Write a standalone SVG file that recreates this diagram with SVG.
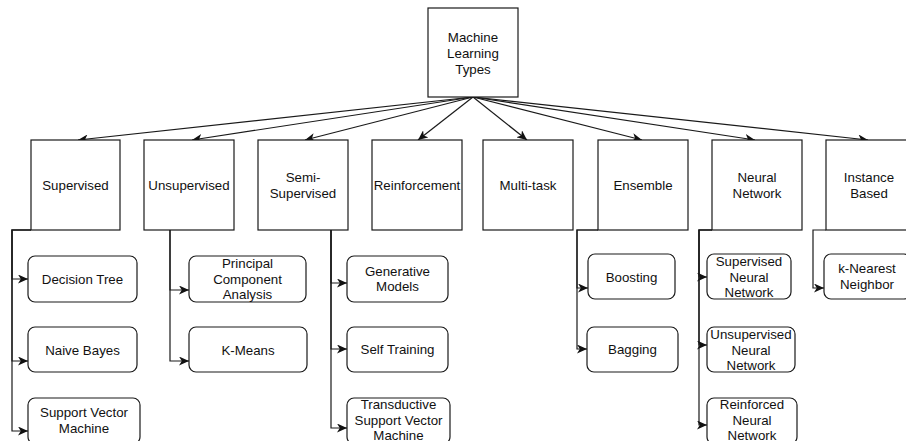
<svg xmlns="http://www.w3.org/2000/svg" width="906" height="441" viewBox="0 0 906 441">
  <style>
    .box { fill: #ffffff; stroke: #1a1a1a; stroke-width: 1.2; }
    .leaf { fill: #ffffff; stroke: #1a1a1a; stroke-width: 1.2; }
    .edge { fill: none; stroke: #1a1a1a; stroke-width: 1.2; }
    text { font-family: "Liberation Sans", Arial, Helvetica, sans-serif; font-size: 13.3px; fill: #111111; text-anchor: middle; dominant-baseline: central; }
  </style>
  <defs>
    <marker id="arrow" markerUnits="userSpaceOnUse" markerWidth="11" markerHeight="9" refX="10" refY="4.5" orient="auto">
      <path d="M0,0 L10,4.5 L0,9 L2.8,4.5 Z" fill="#111111"/>
    </marker>
  </defs>
  <rect width="906" height="441" fill="#ffffff"/>

  <!-- connectors -->
  <g id="connectors" class="edges">
    <!-- root to categories -->
    <path class="edge" d="M473,97 L78,140" marker-end="url(#arrow)"/>
    <path class="edge" d="M473,97 L192,140" marker-end="url(#arrow)"/>
    <path class="edge" d="M473,97 L305,140" marker-end="url(#arrow)"/>
    <path class="edge" d="M473,97 L418,140" marker-end="url(#arrow)"/>
    <path class="edge" d="M473,97 L527,140" marker-end="url(#arrow)"/>
    <path class="edge" d="M473,97 L642,140" marker-end="url(#arrow)"/>
    <path class="edge" d="M473,97 L755,140" marker-end="url(#arrow)"/>
    <path class="edge" d="M473,97 L868,140" marker-end="url(#arrow)"/>
    <!-- Supervised -->
    <path class="edge" d="M31,230 H12 V279 H28" marker-end="url(#arrow)"/>
    <path class="edge" d="M31,230 H12 V361 H28" marker-end="url(#arrow)"/>
    <path class="edge" d="M31,230 H12 V431 H28" marker-end="url(#arrow)"/>
    <!-- Unsupervised -->
    <path class="edge" d="M170,230 V290 H189" marker-end="url(#arrow)"/>
    <path class="edge" d="M170,230 V361 H189" marker-end="url(#arrow)"/>
    <!-- Semi-Supervised -->
    <path class="edge" d="M331,230 V283 H347" marker-end="url(#arrow)"/>
    <path class="edge" d="M331,230 V349 H347" marker-end="url(#arrow)"/>
    <path class="edge" d="M331,230 V428 H347" marker-end="url(#arrow)"/>
    <!-- Ensemble -->
    <path class="edge" d="M598,230 H577 V288 H588" marker-end="url(#arrow)"/>
    <path class="edge" d="M598,230 H577 V349 H587" marker-end="url(#arrow)"/>
    <!-- Neural Network -->
    <path class="edge" d="M712,230 H699 V277 H707" marker-end="url(#arrow)"/>
    <path class="edge" d="M712,230 H699 V345 H707" marker-end="url(#arrow)"/>
    <path class="edge" d="M712,230 H699 V425 H707" marker-end="url(#arrow)"/>
    <!-- Instance Based -->
    <path class="edge" d="M826,230 H813 V288 H824" marker-end="url(#arrow)"/>
  </g>

  <!-- root -->
  <g id="root">
    <rect class="box" x="428" y="8" width="90" height="89"/>
    <text x="473" y="37">Machine</text>
    <text x="473" y="53">Learning</text>
    <text x="473" y="69">Types</text>
  </g>

  <!-- categories -->
  <g id="supervised">
    <rect class="box" x="31" y="140" width="89" height="90"/>
    <text x="75.5" y="185">Supervised</text>
  </g>
  <g id="unsupervised">
    <rect class="box" x="144" y="140" width="90" height="90"/>
    <text x="189" y="185">Unsupervised</text>
  </g>
  <g id="semi-supervised">
    <rect class="box" x="258" y="140" width="90" height="90"/>
    <text x="303" y="177">Semi-</text>
    <text x="303" y="193">Supervised</text>
  </g>
  <g id="reinforcement">
    <rect class="box" x="372" y="140" width="90" height="90"/>
    <text x="417" y="185">Reinforcement</text>
  </g>
  <g id="multi-task">
    <rect class="box" x="483" y="140" width="90" height="90"/>
    <text x="528" y="185">Multi-task</text>
  </g>
  <g id="ensemble">
    <rect class="box" x="598" y="140" width="90" height="90"/>
    <text x="643" y="185">Ensemble</text>
  </g>
  <g id="neural-network">
    <rect class="box" x="712" y="140" width="90" height="90"/>
    <text x="757" y="177">Neural</text>
    <text x="757" y="193">Network</text>
  </g>
  <g id="instance-based">
    <rect class="box" x="826" y="140" width="90" height="90"/>
    <text x="869" y="177">Instance</text>
    <text x="869" y="193">Based</text>
  </g>

  <!-- Supervised leaves -->
  <g id="decision-tree">
    <rect class="leaf" x="28" y="256" width="109" height="46" rx="7"/>
    <text x="82.5" y="279">Decision Tree</text>
  </g>
  <g id="naive-bayes">
    <rect class="leaf" x="28" y="327" width="109" height="45" rx="7"/>
    <text x="82.5" y="350">Naive Bayes</text>
  </g>
  <g id="svm">
    <rect class="leaf" x="28" y="398" width="112" height="46" rx="7"/>
    <text x="84" y="412">Support Vector</text>
    <text x="84" y="428">Machine</text>
  </g>

  <!-- Unsupervised leaves -->
  <g id="pca">
    <rect class="leaf" x="189" y="256" width="117" height="46" rx="7"/>
    <text x="247.5" y="263">Principal</text>
    <text x="247.5" y="279">Component</text>
    <text x="247.5" y="294">Analysis</text>
  </g>
  <g id="k-means">
    <rect class="leaf" x="189" y="327" width="118" height="45" rx="7"/>
    <text x="248" y="350">K-Means</text>
  </g>

  <!-- Semi-Supervised leaves -->
  <g id="generative-models">
    <rect class="leaf" x="347" y="256" width="101" height="46" rx="7"/>
    <text x="397.5" y="271">Generative</text>
    <text x="397.5" y="286">Models</text>
  </g>
  <g id="self-training">
    <rect class="leaf" x="347" y="327" width="101" height="45" rx="7"/>
    <text x="397.5" y="349">Self Training</text>
  </g>
  <g id="tsvm">
    <rect class="leaf" x="347" y="398" width="103" height="46" rx="7"/>
    <text x="398.5" y="404">Transductive</text>
    <text x="398.5" y="420">Support Vector</text>
    <text x="398.5" y="435">Machine</text>
  </g>

  <!-- Ensemble leaves -->
  <g id="boosting">
    <rect class="leaf" x="588" y="254" width="87" height="45" rx="7"/>
    <text x="631.5" y="277">Boosting</text>
  </g>
  <g id="bagging">
    <rect class="leaf" x="587" y="327" width="91" height="45" rx="7"/>
    <text x="632.5" y="349">Bagging</text>
  </g>

  <!-- Neural Network leaves -->
  <g id="supervised-nn">
    <rect class="leaf" x="707" y="254" width="84" height="45" rx="7"/>
    <text x="749" y="261">Supervised</text>
    <text x="749" y="277">Neural</text>
    <text x="749" y="292">Network</text>
  </g>
  <g id="unsupervised-nn">
    <rect class="leaf" x="707" y="327" width="88" height="45" rx="7"/>
    <text x="751" y="334">Unsupervised</text>
    <text x="751" y="350">Neural</text>
    <text x="751" y="365">Network</text>
  </g>
  <g id="reinforced-nn">
    <rect class="leaf" x="707" y="398" width="90" height="46" rx="7"/>
    <text x="752" y="404">Reinforced</text>
    <text x="752" y="420">Neural</text>
    <text x="752" y="435">Network</text>
  </g>

  <!-- Instance Based leaves -->
  <g id="knn">
    <rect class="leaf" x="824" y="254" width="87" height="45" rx="7"/>
    <text x="867" y="268">k-Nearest</text>
    <text x="867" y="284">Neighbor</text>
  </g>
</svg>
